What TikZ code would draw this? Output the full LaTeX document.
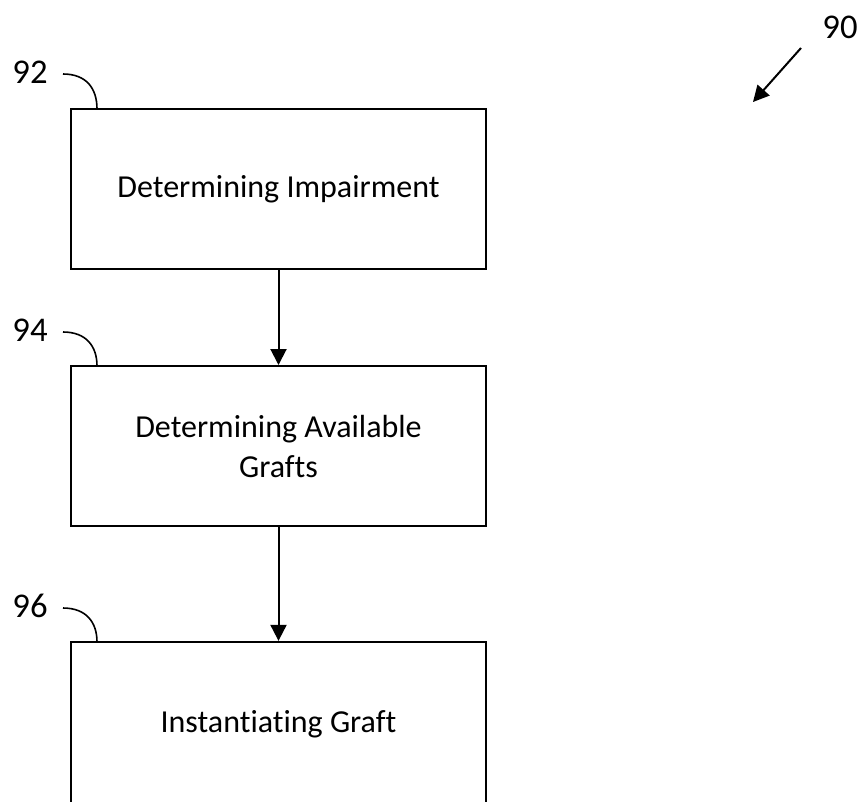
\documentclass[tikz,border=0pt]{standalone}
\usepackage{fontspec}
\setmainfont{Carlito}[Ligatures=NoCommon]
\usepackage{tikz}
\usetikzlibrary{positioning}
\usetikzlibrary{arrows.meta}

\begin{document}
\begin{tikzpicture}[x=0.75pt, y=-0.75pt,
  every node/.style={inner sep=0pt},
  stepbox/.style={rectangle, draw=black, line width=1.5pt, minimum width=311.25pt, minimum height=120pt, align=center, font=\fontsize{24}{30}\selectfont},
  reflabel/.style={font=\fontsize{26}{30}\selectfont},
  flow/.style={line width=1.5pt, -{Triangle[length=12pt, width=12pt]}},
  leader/.style={line width=1.2pt}]
\useasboundingbox (0,0) rectangle (859,801);
\clip (0,0) rectangle (859,801);
\node (b92) [stepbox] at (278.5, 189.0) {Determining Impairment};
\node (b94) [stepbox] at (278.5, 446.0) {Determining Available\\Grafts};
\node (b96) [stepbox, minimum height=124pt] at (278.5, 724.5) {Instantiating Graft};
\node (l92) [reflabel] at (30.0, 72.0) {92};
\node (l94) [reflabel] at (30.0, 330.0) {94};
\node (l96) [reflabel] at (30.0, 606.0) {96};
\node (l90) [reflabel] at (840.0, 27.0) {90};
\coordinate (a90) at (801.0, 48.0);
\coordinate (t90) at (753.0, 102.0);
\coordinate (s92) at (63.0, 74.0);
\coordinate (s94) at (63.0, 332.0);
\coordinate (s96) at (63.0, 608.0);
\coordinate (e92) at (97.0, 109.0);
\coordinate (e94) at (97.0, 366.0);
\coordinate (e96) at (97.0, 642.0);
\draw [flow] (b92) to (b94);
\draw [flow] (b94) to (b96);
\draw [flow] (a90) to (t90);
\draw [leader] (s92) .. controls +(23,0) and +(0,-21) .. (e92);
\draw [leader] (s94) .. controls +(23,0) and +(0,-20) .. (e94);
\draw [leader] (s96) .. controls +(23,0) and +(0,-20) .. (e96);
\end{tikzpicture}
\end{document}
